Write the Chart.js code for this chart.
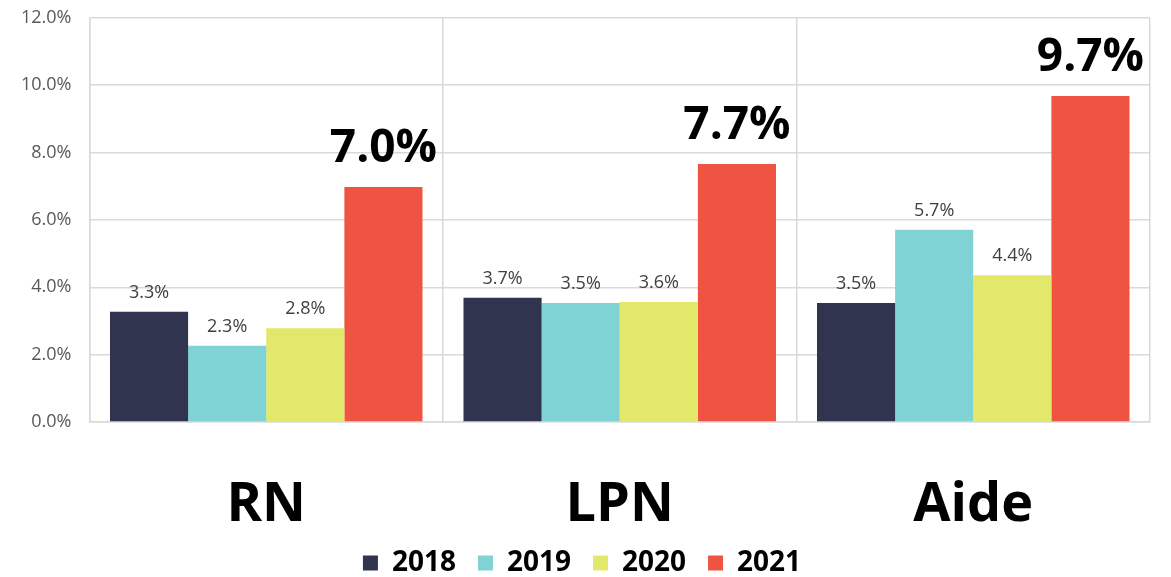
<!DOCTYPE html>
<html>
<head>
<meta charset="utf-8">
<script src="https://cdn.jsdelivr.net/npm/chart.js@4"></script>
<style>
  html, body { margin: 0; padding: 0; background: #fff; }
  #wrap { width: 1171px; height: 577px; }
</style>
</head>
<body>
<div id="wrap"><canvas id="myChart"></canvas></div>
<script>
// categories and series values (percent)
const categories = ['RN', 'LPN', 'Aide'];
const years = ['2018', '2019', '2020', '2021'];
const values2018 = [3.27, 3.69, 3.53];
const values2019 = [2.26, 3.53, 5.71];
const values2020 = [2.78, 3.56, 4.36];
const values2021 = [6.98, 7.66, 9.68];
const yTicks = [0, 2, 4, 6, 8, 10, 12];

const colors = ['#30344e', '#7fd3d4', '#e2e86a', '#ef5442'];
const series = [values2018, values2019, values2020, values2021];

// value labels above bars (2021 is big and bold)
const barLabels = {
    id: 'barLabels',
    afterDatasetsDraw(chart) {
        const ctx = chart.ctx;
        ctx.save();
        ctx.textAlign = 'center';
        ctx.textBaseline = 'alphabetic';
        chart.data.datasets.forEach((ds, i) => {
            const meta = chart.getDatasetMeta(i);
            meta.data.forEach((bar, j) => {
                const txt = ds.data[j].toFixed(1) + '%';
                if (i === 3) {
                    ctx.font = 'bold 46px "Open Sans"';
                    ctx.fillStyle = '#000';
                    ctx.fillText(txt, bar.x, bar.y - 25);
                } else {
                    ctx.font = '18px "Open Sans"';
                    ctx.fillStyle = '#404040';
                    ctx.fillText(txt, bar.x, bar.y - 14);
                }
            });
        });
        ctx.restore();
    }
};

const ctx = document.getElementById('myChart').getContext('2d');
new Chart(ctx, {
    type: 'bar',
    data: {
        labels: categories,
        datasets: years.map((y, i) => ({
            label: y,
            data: series[i],
            backgroundColor: colors[i],
            borderWidth: 0,
            categoryPercentage: 0.884,
            barPercentage: 1
        }))
    },
    options: {
        responsive: true,
        maintainAspectRatio: false,
        animation: false,
        layout: { padding: { left: 14, right: 21, top: 0, bottom: -10 } },
        scales: {
            y: {
                min: 0,
                max: 12,
                afterBuildTicks: axis => { axis.ticks = yTicks.map(v => ({ value: v })); },
                grid: { color: '#d9d9d9', lineWidth: 1.5, drawTicks: true, tickLength: 11, tickColor: 'rgba(0,0,0,0)' },
                border: { color: '#d9d9d9', width: 1.5 },
                ticks: {
                    padding: 7,
                    color: '#595959',
                    font: { family: 'Open Sans', size: 18 },
                    callback: v => v.toFixed(1) + '%'
                }
            },
            x: {
                grid: { color: '#d9d9d9', lineWidth: 1.5, offset: true, drawTicks: true, tickLength: 63, tickColor: 'rgba(0,0,0,0)' },
                border: { color: '#d9d9d9', width: 1.5 },
                ticks: {
                    padding: 2,
                    color: '#000',
                    font: { family: 'Open Sans', size: 54, weight: 'bold', lineHeight: 0.704 }
                }
            }
        },
        plugins: {
            legend: {
                position: 'bottom',
                labels: {
                    boxWidth: 15,
                    boxHeight: 15,
                    padding: 22,
                    color: '#000',
                    font: { family: 'Open Sans', size: 28, weight: 'bold', lineHeight: 1 }
                }
            },
            tooltip: { enabled: false }
        }
    },
    plugins: [barLabels]
});
</script>
</body>
</html>
